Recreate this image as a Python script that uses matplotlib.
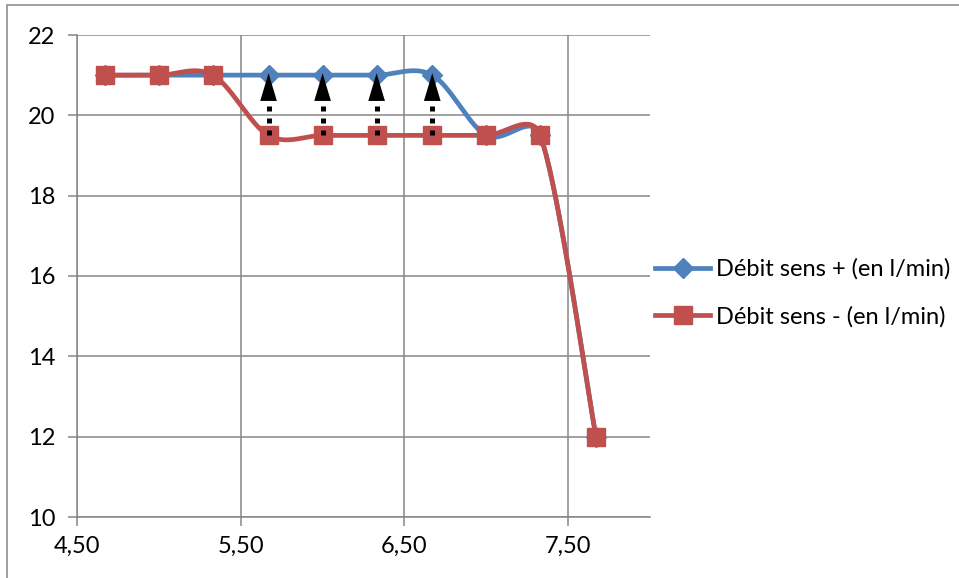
import numpy as np
import matplotlib.pyplot as plt
from matplotlib.patches import Rectangle
from matplotlib.ticker import FuncFormatter

# data
x_vals = [4.67, 5.00, 5.33, 5.67, 6.00, 6.33, 6.67, 7.00, 7.33, 7.67]
debit_plus = [21, 21, 21, 21, 21, 21, 21, 19.5, 19.5, 12]
debit_minus = [21, 21, 21, 19.5, 19.5, 19.5, 19.5, 19.5, 19.5, 12]
arrow_x = [5.67, 6.00, 6.33, 6.67]
arrow_from = 19.5
arrow_to = 21.0
x_ticks = [4.5, 5.5, 6.5, 7.5]
y_ticks = [10, 12, 14, 16, 18, 20, 22]

label_plus = 'Débit sens + (en l/min)'
label_minus = 'Débit sens - (en l/min)'

BLUE = '#4F81BD'
RED = '#C0504D'
GRID = '#868686'

AX_W, AX_H = 573, 482
XLIM, YLIM = (4.5, 8.0), (10, 22)


def smooth(x, y, n=40):
    # excel like smoothed line, done in pixel space so the clamp is fair
    kx = AX_W / (XLIM[1] - XLIM[0])
    ky = AX_H / (YLIM[1] - YLIM[0])
    p = np.column_stack([np.asarray(x) * kx, np.asarray(y) * ky]).astype(float)
    pts = np.vstack([p[0], p, p[-1]])
    out = []
    for i in range(1, len(pts) - 2):
        p0, p1, p2, p3 = pts[i - 1], pts[i], pts[i + 1], pts[i + 2]
        seglen = np.hypot(*(p2 - p1))
        d1 = (p2 - p0) / 6
        d2 = (p3 - p1) / 6
        for d in (d1, d2):
            L = np.hypot(*d)
            if L > 0.5 * seglen:
                d *= 0.5 * seglen / L
        c1 = p1 + d1
        c2 = p2 - d2
        t = np.linspace(0, 1, n)[:, None]
        seg = ((1 - t) ** 3) * p1 + 3 * ((1 - t) ** 2) * t * c1 + 3 * (1 - t) * t ** 2 * c2 + t ** 3 * p2
        out.append(seg)
    out = np.vstack(out)
    return out[:, 0] / kx, out[:, 1] / ky


plt.rcParams['font.family'] = ['Lato', 'DejaVu Sans']

fig = plt.figure(figsize=(9.59, 5.78), dpi=100)
ax = fig.add_axes([77 / 959, 61 / 578, AX_W / 959, AX_H / 578])

for xs, ys, col, mk, ms, lab in [(x_vals, debit_plus, BLUE, 'D', 10, label_plus),
                                 (x_vals, debit_minus, RED, 's', 13, label_minus)]:
    sx, sy = smooth(xs, ys)
    ax.plot(sx, sy, color=col, lw=3.4, solid_capstyle='round', zorder=3)
    ax.plot(xs, ys, ls='none', marker=mk, ms=ms, color=col, zorder=4)
    # proxy for legend
    ax.plot([], [], color=col, lw=3.4, marker=mk, ms=ms, label=lab)

# dotted arrows
for xa in arrow_x:
    ax.plot([xa, xa], [arrow_from, 20.4], color='black', lw=3.6,
            dashes=(1.0, 1.4), dash_capstyle='butt', zorder=5)
    ax.annotate('', xy=(xa, arrow_to + 0.05), xytext=(xa, 20.3),
                arrowprops=dict(arrowstyle='-|>,head_length=1.0,head_width=0.3',
                                color='black', lw=0, shrinkA=0, shrinkB=0,
                                mutation_scale=20), zorder=6)

ax.set_xlim(*XLIM)
ax.set_ylim(*YLIM)
ax.set_xticks(x_ticks)
ax.set_yticks(y_ticks)
ax.xaxis.set_major_formatter(FuncFormatter(lambda v, p: f'{v:.2f}'.replace('.', ',')))

ax.grid(True, color=GRID, lw=1.1)
ax.set_axisbelow(True)
for s in ['top', 'right']:
    ax.spines[s].set_visible(False)
for s in ['left', 'bottom']:
    ax.spines[s].set_color(GRID)
    ax.spines[s].set_linewidth(1.1)
ax.tick_params(axis='both', colors=GRID, length=6.5, width=1.1, labelcolor='black', labelsize=17)
ax.tick_params(axis='y', pad=9)
ax.tick_params(axis='x', pad=7)

fig.legend(loc='center left', bbox_to_anchor=(655 / 959, 1 - 293 / 578), frameon=False,
           fontsize=17, handlelength=2.35, handletextpad=0.25, labelspacing=1.1,
           borderpad=0, borderaxespad=0)

# outer chart border (only top and left visible)
fig.patches.append(Rectangle((7 / 959, -0.5), 2, 0.5 + 1 - 5 / 578, transform=fig.transFigure,
                             fill=False, edgecolor=GRID, lw=1.1))

fig.savefig('out.png', dpi=100)
